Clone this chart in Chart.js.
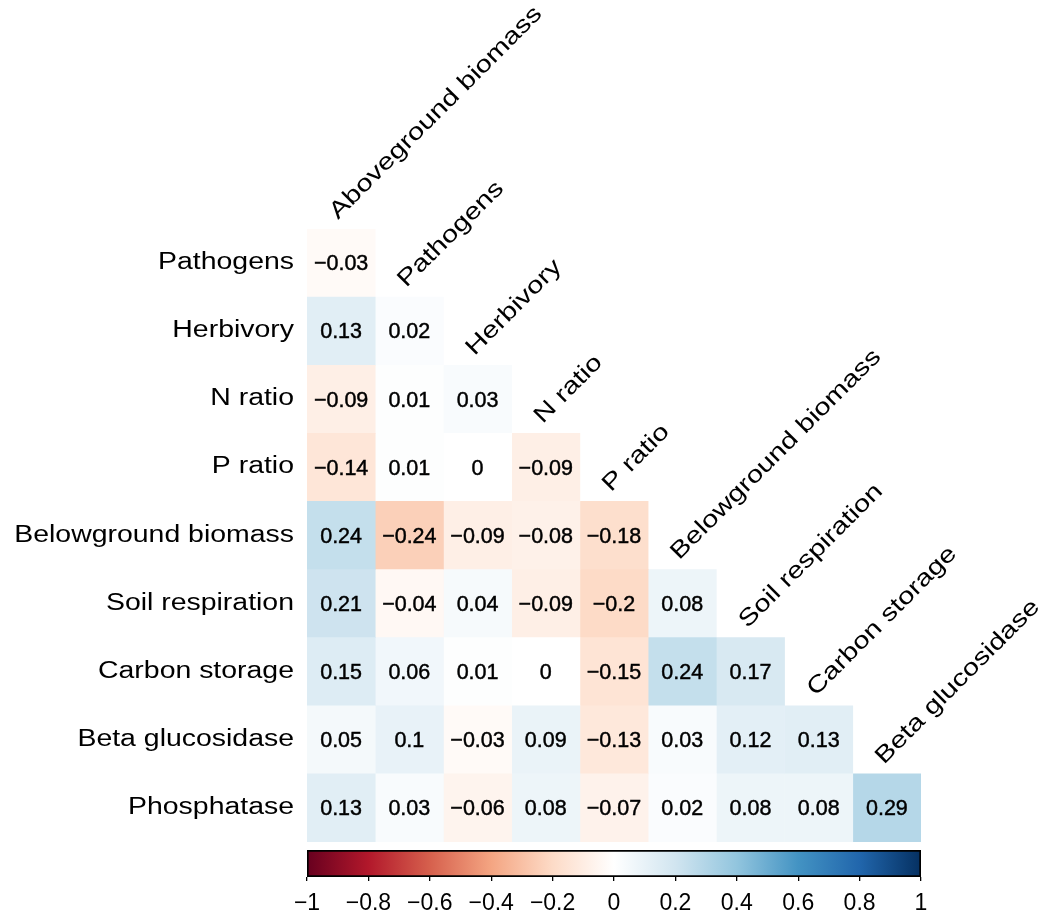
<!DOCTYPE html>
<html>
<head>
<meta charset="utf-8">
<script src="https://cdn.jsdelivr.net/npm/chart.js@4"></script>
<style>
html,body{margin:0;padding:0;background:#fff;}
#wrap{position:relative;width:1049px;height:913px;overflow:hidden;}
#main{position:absolute;left:0;top:0;}
#cbar{position:absolute;left:0;top:840px;}
</style>
</head>
<body>
<div id="wrap">
<canvas id="main" width="1049" height="913"></canvas>
<canvas id="cbar" width="1049" height="73"></canvas>
</div>
<script>
// ---- data ----
const rowLabels = ['Pathogens','Herbivory','N ratio','P ratio','Belowground biomass','Soil respiration','Carbon storage','Beta glucosidase','Phosphatase'];
const colLabels = ['Aboveground biomass','Pathogens','Herbivory','N ratio','P ratio','Belowground biomass','Soil respiration','Carbon storage','Beta glucosidase'];

const rPathogens   = [-0.03];
const rHerbivory   = [0.13, 0.02];
const rNratio      = [-0.09, 0.01, 0.03];
const rPratio      = [-0.14, 0.01, 0, -0.09];
const rBelowground = [0.24, -0.24, -0.09, -0.08, -0.18];
const rSoilResp    = [0.21, -0.04, 0.04, -0.09, -0.2, 0.08];
const rCarbon      = [0.15, 0.06, 0.01, 0, -0.15, 0.24, 0.17];
const rBetaGluc    = [0.05, 0.1, -0.03, 0.09, -0.13, 0.03, 0.12, 0.13];
const rPhosphatase = [0.13, 0.03, -0.06, 0.08, -0.07, 0.02, 0.08, 0.08, 0.29];
const corrRows = [rPathogens, rHerbivory, rNratio, rPratio, rBelowground, rSoilResp, rCarbon, rBetaGluc, rPhosphatase];

const colorbarTicks = [-1, -0.8, -0.6, -0.4, -0.2, 0, 0.2, 0.4, 0.6, 0.8, 1];

// ---- style ----
const palette = ['#67001F','#B2182B','#D6604D','#F4A582','#FDDBC7','#FFFFFF','#D1E5F0','#92C5DE','#4393C3','#2166AC','#053061'];
const FONT = "'Liberation Sans', Arial, Helvetica, sans-serif";

function hexToRgb(h){ return [parseInt(h.slice(1,3),16), parseInt(h.slice(3,5),16), parseInt(h.slice(5,7),16)]; }
function corrColor(v){
  const t = (v + 1) / 2 * (palette.length - 1);
  const k = Math.min(Math.floor(t), palette.length - 2);
  const f = t - k;
  const a = hexToRgb(palette[k]), b = hexToRgb(palette[k+1]);
  const c = a.map((x, n) => Math.round(x + (b[n] - x) * f));
  return 'rgb(' + c.join(',') + ')';
}
function fmt(v){
  const r = Math.round(v * 100) / 100;
  if (r === 0) return '0';
  return (r < 0 ? '\u2212' : '') + String(Math.abs(r));
}

const datasets = colLabels.map((c, j) => ({
  label: c,
  data: rowLabels.map((r, i) => i >= j ? [j, j + 1] : null),
  backgroundColor: rowLabels.map((r, i) => i >= j ? corrColor(corrRows[i][j]) : 'rgba(0,0,0,0)'),
  borderWidth: 0,
  barPercentage: 1,
  categoryPercentage: 1,
  grouped: false
}));

const labelPlugin = {
  id: 'corrLabels',
  afterDatasetsDraw(chart){
    const ctx = chart.ctx;
    const xs = chart.scales.x, ys = chart.scales.y;
    // cell values
    ctx.save();
    ctx.fillStyle = '#000';
    ctx.strokeStyle = '#000';
    ctx.lineWidth = 0.45;
    ctx.font = '21.5px ' + FONT;
    ctx.textAlign = 'center';
    ctx.textBaseline = 'alphabetic';
    chart.data.datasets.forEach((ds, j) => {
      const meta = chart.getDatasetMeta(j);
      meta.data.forEach((el, i) => {
        if (i < j) return;
        const cx = (el.x + el.base) / 2;
        const s = fmt(corrRows[i][j]);
        ctx.fillText(s, cx, el.y + 7.3);
        ctx.strokeText(s, cx, el.y + 7.3);
      });
    });
    ctx.restore();

    const bandH = (ys.bottom - ys.top) / rowLabels.length;
    // row labels
    ctx.save();
    ctx.fillStyle = '#000';
    ctx.font = '23.5px ' + FONT;
    ctx.textAlign = 'right';
    ctx.textBaseline = 'alphabetic';
    rowLabels.forEach((lab, i) => {
      const y = ys.getPixelForValue(i);
      ctx.save();
      ctx.translate(xs.left - 13, y + 6);
      ctx.scale(1.21, 1);
      ctx.fillText(lab, 0, 0);
      ctx.restore();
    });
    ctx.restore();

    // column labels (rotated)
    ctx.save();
    ctx.fillStyle = '#000';
    ctx.font = '23.5px ' + FONT;
    ctx.textAlign = 'left';
    ctx.textBaseline = 'alphabetic';
    colLabels.forEach((lab, j) => {
      const cx = xs.getPixelForValue(j + 0.5);
      const top = ys.getPixelForValue(j) - bandH / 2;
      ctx.save();
      ctx.translate(cx - 3, top - 9);
      ctx.rotate(-Math.PI / 4);
      ctx.scale(1.24, 1);
      ctx.fillText(lab, 0, 0);
      ctx.restore();
    });
    ctx.restore();
  }
};

new Chart(document.getElementById('main'), {
  type: 'bar',
  data: { labels: rowLabels, datasets: datasets },
  options: {
    indexAxis: 'y',
    responsive: false,
    animation: false,
    layout: { padding: { left: 307, top: 229, right: 128, bottom: 71 } },
    scales: {
      x: { type: 'linear', min: 0, max: colLabels.length, display: false },
      y: { type: 'category', display: false }
    },
    plugins: { legend: { display: false }, tooltip: { enabled: false } }
  },
  plugins: [labelPlugin]
});

// ---- colour bar ----
new Chart(document.getElementById('cbar'), {
  type: 'bar',
  data: {
    labels: ['corr'],
    datasets: [{
      data: [[-1, 1]],
      backgroundColor: (c) => {
        const ch = c.chart;
        const xs = ch.scales.x;
        if (!ch.chartArea || !xs) return '#fff';
        const g = ch.ctx.createLinearGradient(xs.getPixelForValue(-1), 0, xs.getPixelForValue(1), 0);
        palette.forEach((col, k) => g.addColorStop(k / (palette.length - 1), col));
        return g;
      },
      borderColor: '#000',
      borderWidth: 2,
      borderSkipped: false,
      barPercentage: 1,
      categoryPercentage: 1
    }]
  },
  options: {
    indexAxis: 'y',
    responsive: false,
    animation: false,
    layout: { padding: { left: 307, right: 128, top: 10, bottom: 0 } },
    scales: {
      x: {
        type: 'linear', min: -1, max: 1, position: 'bottom',
        afterBuildTicks: (s) => { s.ticks = colorbarTicks.map(v => ({ value: v })); },
        afterFit: (s) => { s.height = 36; },
        ticks: { font: { family: FONT, size: 23 }, color: '#000', padding: 9, maxRotation: 0, autoSkip: false,
                 callback: (v) => fmt(v) },
        grid: { drawOnChartArea: false, drawTicks: true, tickLength: 4, color: '#000', lineWidth: 1.3 },
        border: { display: false }
      },
      y: { type: 'category', display: false }
    },
    plugins: { legend: { display: false }, tooltip: { enabled: false } }
  }
});
</script>
</body>
</html>
